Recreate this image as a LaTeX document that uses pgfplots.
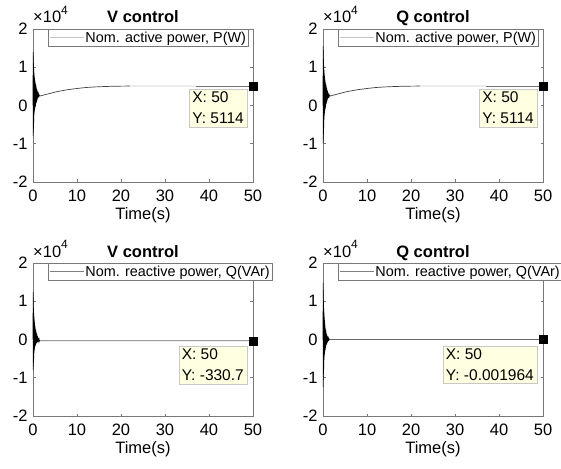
\documentclass[border=0pt]{standalone}
\usepackage{fontspec}
\setmainfont{Liberation Sans}
\usepackage{pgfplots}
\pgfplotsset{compat=1.18}
\definecolor{tipbg}{RGB}{255,255,225}
\definecolor{tipbd}{RGB}{200,200,200}
\definecolor{axgray}{RGB}{120,120,120}
\pgfplotsset{myax/.style={
  scale only axis, width=220pt, height=153pt,
  xmin=0, xmax=50, ymin=-20000, ymax=20000,
  xtick={0,10,...,50},
  ytick={-20000,-10000,0,10000,20000},
  yticklabels={-2,-1,0,1,2},
  scaled y ticks=false,
  tick align=inside, major tick length=2.5pt,
  axis line style={axgray, line width=0.6pt},
  tick style={axgray, line width=0.6pt},
  every tick label/.append style={font=\fontsize{16.5}{19}\selectfont, black},
  xticklabel style={yshift=-4pt},
  yticklabel style={xshift=-2pt},
  /pgf/number format/assume math mode=true,
  xlabel={Time(s)},
  xlabel style={font=\fontsize{16.5}{19}\selectfont, yshift=1pt},
  title style={font=\bfseries\fontsize{16.5}{19}\selectfont, at={(0.5,1)}, anchor=base, yshift=0pt},
  legend style={at={(axis description cs:0.068,1)}, anchor=north west,
     draw=axgray, line width=0.5pt, fill=white,
     font=\fontsize{14.4}{16}\selectfont, inner xsep=1pt, inner ysep=1pt,
     nodes={inner sep=1.5pt}},
  legend image code/.code={\draw[#1, line width=0.7pt] (0pt,0pt) -- (34pt,0pt);},
  clip=false,
}}
\newcommand{\timesten}{\node[anchor=base west, font=\fontsize{16.5}{18}\selectfont, inner sep=0pt] at (rel axis cs:0,1) [yshift=6pt] {×10\raisebox{0.5em}{\fontsize{12}{12}\selectfont 4}};}
\newcommand{\tip}[3]{\node[draw=tipbd, fill=tipbg, anchor=north east, align=left, font=\fontsize{15.5}{21}\selectfont, inner xsep=3pt, inner ysep=3pt, xshift=-6pt, yshift=#3] at (axis cs:50,#1) {X: 50\\Y: #2};}
\pgfplotstableread{
t v
0.00 0
0.02 14000
0.04 -8000
0.06 13000
0.08 -7000
0.10 12000
0.12 -6000
0.14 11000
0.16 -4500
0.18 9500
0.20 -3500
0.23 8500
0.26 -2500
0.29 7800
0.32 -1800
0.35 7200
0.38 -1200
0.41 6700
0.44 -800
0.47 6300
0.50 -400
0.54 5900
0.58 -100
0.62 5500
0.66 300
0.70 5100
0.74 700
0.78 4700
0.82 1000
0.86 4300
0.90 1300
0.94 4000
0.98 1600
1.02 3700
1.06 1900
1.10 3400
1.15 2100
1.20 3100
1.25 2300
1.30 2900
1.35 2400
1.40 2700
1.45 2500
1.50 2550
1.60 2500
}\tlT
\pgfplotstableread{
t v
0.00 0
0.02 15500
0.04 -10000
0.06 14500
0.08 -9000
0.10 13000
0.12 -7500
0.14 11800
0.16 -6000
0.18 10500
0.20 -4800
0.23 9300
0.26 -3700
0.29 8400
0.32 -2800
0.35 7700
0.38 -2000
0.41 7100
0.44 -1400
0.47 6600
0.50 -900
0.54 6100
0.58 -400
0.62 5700
0.66 0
0.70 5300
0.74 400
0.78 4900
0.82 800
0.86 4500
0.90 1100
0.94 4100
0.98 1500
1.02 3800
1.06 1800
1.10 3500
1.15 2000
1.20 3200
1.25 2200
1.30 2950
1.35 2350
1.40 2750
1.45 2450
1.50 2600
1.60 2500
}\trT
\pgfplotstableread{
t v
1.60 2500
2 2600
3 2900
4 3200
5 3500
6 3750
7 3950
8 4150
10 4450
12 4700
14 4850
16 4950
18 5020
20 5060
22 5080
}\pslowA
\pgfplotstableread{
t v
22 5080
25 5100
30 5110
37 5114
}\pslowB
\pgfplotstableread{
t v
37 5114
50 5114
}\pslowC
\pgfplotstableread{
t v
0.00 0
0.02 12400
0.04 -8000
0.06 11000
0.08 -7000
0.10 9500
0.12 -6000
0.14 8200
0.16 -5000
0.18 7000
0.20 -4200
0.23 6000
0.26 -3500
0.29 5200
0.32 -2900
0.35 4500
0.38 -2400
0.41 3900
0.44 -2000
0.47 3400
0.50 -1700
0.54 2900
0.58 -1400
0.62 2500
0.66 -1200
0.70 2100
0.74 -1000
0.78 1800
0.82 -900
0.86 1500
0.90 -800
0.94 1200
0.98 -700
1.02 900
1.06 -600
1.10 700
1.15 -550
1.20 400
1.25 -500
1.30 200
1.35 -450
1.40 0
1.45 -400
1.50 -250
1.60 -330
}\blT
\pgfplotstableread{
t v
0.00 0
0.02 14800
0.04 -12400
0.06 13000
0.08 -10500
0.10 11000
0.12 -9000
0.14 9500
0.16 -7600
0.18 8200
0.20 -6400
0.23 7000
0.26 -5400
0.29 6000
0.32 -4500
0.35 5100
0.38 -3800
0.41 4300
0.44 -3200
0.47 3600
0.50 -2700
0.54 3000
0.58 -2200
0.62 2500
0.66 -1800
0.70 2000
0.74 -1500
0.78 1600
0.82 -1200
0.86 1300
0.90 -1000
0.94 1000
0.98 -800
1.02 800
1.06 -600
1.10 600
1.15 -450
1.20 400
1.25 -300
1.30 250
1.35 -150
1.40 100
1.45 -50
1.50 0
}\brT
\begin{document}
\begin{tikzpicture}
\useasboundingbox (0,0) rectangle (561pt,468pt);
% ---- top left
\begin{axis}[myax, at={(33pt,286pt)}, anchor=south west, title={V control}]
\addlegendimage{black!22}
\addlegendentry{Nom. active power, P(W)}
\addplot[black, line width=0.6pt, forget plot] table[x=t,y=v] {\tlT};
\addplot[black!75, line width=0.7pt, forget plot] table[x=t,y=v] {\pslowA};
\addplot[black!20, line width=0.7pt, forget plot] table[x=t,y=v] {\pslowB};
\addplot[black!55, line width=0.7pt, forget plot] table[x=t,y=v] {\pslowC};
\addplot[only marks, mark=square*, mark size=4pt, black, forget plot] coordinates {(50,5114)};
\tip{5114}{5114}{-3pt}
\timesten
\end{axis}
% ---- top right
\begin{axis}[myax, at={(323pt,286pt)}, anchor=south west, title={Q control}]
\addlegendimage{black!22}
\addlegendentry{Nom. active power, P(W)}
\addplot[black, line width=0.6pt, forget plot] table[x=t,y=v] {\trT};
\addplot[black!75, line width=0.7pt, forget plot] table[x=t,y=v] {\pslowA};
\addplot[black!20, line width=0.7pt, forget plot] table[x=t,y=v] {\pslowB};
\addplot[black!55, line width=0.7pt, forget plot] table[x=t,y=v] {\pslowC};
\addplot[only marks, mark=square*, mark size=4pt, black, forget plot] coordinates {(50,5114)};
\tip{5114}{5114}{-3pt}
\timesten
\end{axis}
% ---- bottom left
\begin{axis}[myax, at={(33pt,52pt)}, anchor=south west, title={V control}]
\addlegendimage{black!50}
\addlegendentry{Nom. reactive power, Q(VAr)}
\addplot[black, line width=0.6pt, forget plot] table[x=t,y=v] {\blT};
\addplot[black!60, line width=0.8pt, forget plot] coordinates {(1.6,-330) (50,-330.7)};
\addplot[only marks, mark=square*, mark size=4pt, black, forget plot] coordinates {(50,-330.7)};
\tip{-330.7}{-330.7}{-5pt}
\timesten
\end{axis}
% ---- bottom right
\begin{axis}[myax, at={(323pt,52pt)}, anchor=south west, title={Q control}]
\addlegendimage{black!50}
\addlegendentry{Nom. reactive power, Q(VAr)}
\addplot[black, line width=0.6pt, forget plot] table[x=t,y=v] {\brT};
\addplot[black!60, line width=0.8pt, forget plot] coordinates {(1.5,0) (50,-0.001964)};
\addplot[only marks, mark=square*, mark size=4pt, black, forget plot] coordinates {(50,-0.001964)};
\tip{-0.001964}{-0.001964}{-6pt}
\timesten
\end{axis}
\end{tikzpicture}
\end{document}
